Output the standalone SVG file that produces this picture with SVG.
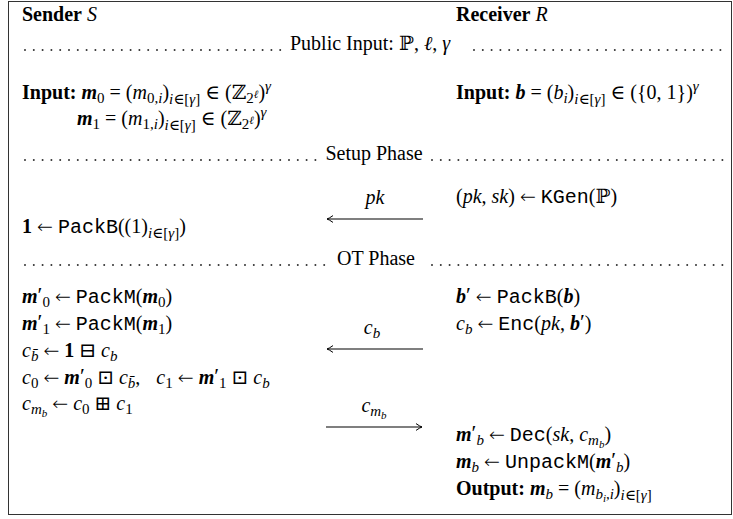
<svg xmlns="http://www.w3.org/2000/svg" width="733" height="519" viewBox="0 0 733 519">
<style>
.t{font-family:"Liberation Serif","DejaVu Serif","DejaVu Sans",serif;font-size:20px;fill:#000}
.b{font-weight:bold}
.i{font-style:italic}
.bi{font-weight:bold;font-style:italic}
.tt{font-family:"Liberation Mono","DejaVu Sans Mono",monospace;font-size:20px}
.ar{font-family:"DejaVu Sans",sans-serif;font-weight:200;font-size:19px}
.s{font-size:15px}
.ss{font-size:11px}
.pr{font-size:22px}
.dots{stroke:#333;stroke-width:2;stroke-linecap:round;stroke-dasharray:0 8.8;fill:none}
.arr{stroke:#000;stroke-width:1.1;fill:none}
</style>
<defs>
<marker id="ah" viewBox="-8 -4 9 8" refX="0" refY="0" markerWidth="9" markerHeight="8" orient="auto" markerUnits="userSpaceOnUse"><path d="M-6,-3.4 Q-2,-0.6 0,0 Q-2,0.6 -6,3.4" fill="none" stroke="#000" stroke-width="1"/></marker>
</defs>
<rect x="8.5" y="1.5" width="723" height="513" fill="#fff" stroke="#333" stroke-width="1"/>

<g id="sender-header"><text class="t" x="22" y="21"><tspan class="b">Sender</tspan> <tspan class="i">S</tspan></text></g>
<g id="receiver-header"><text class="t" x="456" y="21"><tspan class="b">Receiver</tspan> <tspan class="i">R</tspan></text></g>

<g id="public-input">
<line class="dots" x1="25" y1="50" x2="284" y2="50"/>
<text class="t" x="290" y="50">Public Input: ℙ, <tspan class="i">ℓ</tspan>, <tspan class="i">γ</tspan></text>
<line class="dots" x1="474" y1="50" x2="724" y2="50"/>
</g>

<g id="sender-input">
<text class="t" x="22" y="99"><tspan class="b">Input:</tspan> <tspan class="bi">m</tspan><tspan class="s" dy="4">0</tspan><tspan dy="-4"> = (</tspan><tspan class="i">m</tspan><tspan class="s" dy="4">0,<tspan class="i">i</tspan></tspan><tspan dy="-4">)</tspan><tspan class="s" dy="5"><tspan class="i">i</tspan>∈[<tspan class="i">γ</tspan>]</tspan><tspan dy="-5"> ∈ (ℤ</tspan><tspan class="s" dy="4">2</tspan><tspan class="ss i" dy="-5">ℓ</tspan><tspan dy="1">)</tspan><tspan class="s i" dy="-8">γ</tspan></text>
<text class="t" x="77" y="125"><tspan class="bi">m</tspan><tspan class="s" dy="4">1</tspan><tspan dy="-4"> = (</tspan><tspan class="i">m</tspan><tspan class="s" dy="4">1,<tspan class="i">i</tspan></tspan><tspan dy="-4">)</tspan><tspan class="s" dy="5"><tspan class="i">i</tspan>∈[<tspan class="i">γ</tspan>]</tspan><tspan dy="-5"> ∈ (ℤ</tspan><tspan class="s" dy="4">2</tspan><tspan class="ss i" dy="-5">ℓ</tspan><tspan dy="1">)</tspan><tspan class="s i" dy="-8">γ</tspan></text>
</g>

<g id="receiver-input">
<text class="t" x="456" y="99"><tspan class="b">Input:</tspan> <tspan class="bi">b</tspan> = (<tspan class="i">b</tspan><tspan class="s i" dy="4">i</tspan><tspan dy="-4">)</tspan><tspan class="s" dy="5"><tspan class="i">i</tspan>∈[<tspan class="i">γ</tspan>]</tspan><tspan dy="-5"> ∈ ({0, 1})</tspan><tspan class="s i" dy="-8">γ</tspan></text>
</g>

<g id="setup-phase">
<line class="dots" x1="25" y1="160" x2="316" y2="160"/>
<text class="t" x="374" y="160" text-anchor="middle">Setup Phase</text>
<line class="dots" x1="432" y1="160" x2="724" y2="160"/>
</g>

<g id="receiver-keygen">
<text class="t" x="456" y="203">(<tspan class="i">pk</tspan>, <tspan class="i">sk</tspan>) <tspan class="ar">←</tspan> <tspan class="tt">KGen</tspan>(ℙ)</text>
</g>

<g id="sender-packone">
<text class="t" x="22" y="233"><tspan class="b">1</tspan> <tspan class="ar">←</tspan> <tspan class="tt">PackB</tspan>((1)<tspan class="s" dy="5"><tspan class="i">i</tspan>∈[<tspan class="i">γ</tspan>]</tspan><tspan dy="-5">)</tspan></text>
</g>

<g id="ot-phase">
<line class="dots" x1="25" y1="265" x2="328" y2="265"/>
<text class="t" x="376" y="265" text-anchor="middle">OT Phase</text>
<line class="dots" x1="432" y1="265" x2="724" y2="265"/>
</g>

<g id="sender-ot">
<text class="t" x="22" y="303"><tspan class="bi">m</tspan><tspan class="pr" dy="-1">′</tspan><tspan class="s" dy="5">0</tspan><tspan dy="-4"> </tspan><tspan class="ar">←</tspan> <tspan class="tt">PackM</tspan>(<tspan class="bi">m</tspan><tspan class="s" dy="4">0</tspan><tspan dy="-4">)</tspan></text>
<text class="t" x="22" y="330"><tspan class="bi">m</tspan><tspan class="pr" dy="-1">′</tspan><tspan class="s" dy="5">1</tspan><tspan dy="-4"> </tspan><tspan class="ar">←</tspan> <tspan class="tt">PackM</tspan>(<tspan class="bi">m</tspan><tspan class="s" dy="4">1</tspan><tspan dy="-4">)</tspan></text>
<text class="t" x="22" y="357"><tspan class="i">c</tspan><tspan class="s i" dy="4">b̄</tspan><tspan dy="-4"> </tspan><tspan class="ar">←</tspan> <tspan class="b">1</tspan> ⊟ <tspan class="i">c</tspan><tspan class="s i" dy="4">b</tspan></text>
<text class="t" x="22" y="384"><tspan class="i">c</tspan><tspan class="s" dy="4">0</tspan><tspan dy="-4"> </tspan><tspan class="ar">←</tspan> <tspan class="bi">m</tspan><tspan class="pr" dy="-1">′</tspan><tspan class="s" dy="5">0</tspan><tspan dy="-4"> ⊡ </tspan><tspan class="i">c</tspan><tspan class="s i" dy="4">b̄</tspan><tspan dy="-4">,</tspan><tspan dx="16" class="i">c</tspan><tspan class="s" dy="4">1</tspan><tspan dy="-4"> </tspan><tspan class="ar">←</tspan> <tspan class="bi">m</tspan><tspan class="pr" dy="-1">′</tspan><tspan class="s" dy="5">1</tspan><tspan dy="-4"> ⊡ </tspan><tspan class="i">c</tspan><tspan class="s i" dy="4">b</tspan></text>
<text class="t" x="22" y="410"><tspan class="i">c</tspan><tspan class="s i" dy="4">m</tspan><tspan class="ss i" dy="2.5">b</tspan><tspan dy="-6.5"> </tspan><tspan class="ar">←</tspan> <tspan class="i">c</tspan><tspan class="s" dy="4">0</tspan><tspan dy="-4"> ⊞ </tspan><tspan class="i">c</tspan><tspan class="s" dy="4">1</tspan></text>
</g>

<g id="receiver-ot">
<text class="t" x="456" y="303"><tspan class="bi">b</tspan><tspan class="pr" dy="-1">′</tspan><tspan dy="1"> </tspan><tspan class="ar">←</tspan> <tspan class="tt">PackB</tspan>(<tspan class="bi">b</tspan>)</text>
<text class="t" x="456" y="330"><tspan class="i">c</tspan><tspan class="s i" dy="4">b</tspan><tspan dy="-4"> </tspan><tspan class="ar">←</tspan> <tspan class="tt">Enc</tspan>(<tspan class="i">pk</tspan>, <tspan class="bi">b</tspan><tspan class="pr" dy="-1">′</tspan><tspan dy="1">)</tspan></text>
</g>

<g id="receiver-output">
<text class="t" x="456" y="441"><tspan class="bi">m</tspan><tspan class="pr" dy="-1">′</tspan><tspan class="s i" dy="5">b</tspan><tspan dy="-4"> </tspan><tspan class="ar">←</tspan> <tspan class="tt">Dec</tspan>(<tspan class="i">sk</tspan>, <tspan class="i">c</tspan><tspan class="s i" dy="4">m</tspan><tspan class="ss i" dy="2.5">b</tspan><tspan dy="-6.5">)</tspan></text>
<text class="t" x="456" y="468"><tspan class="bi">m</tspan><tspan class="s i" dy="4">b</tspan><tspan dy="-4"> </tspan><tspan class="ar">←</tspan> <tspan class="tt">UnpackM</tspan>(<tspan class="bi">m</tspan><tspan class="pr" dy="-1">′</tspan><tspan class="s i" dy="5">b</tspan><tspan dy="-4">)</tspan></text>
<text class="t" x="456" y="495"><tspan class="b">Output:</tspan> <tspan class="bi">m</tspan><tspan class="s i" dy="4">b</tspan><tspan dy="-4"> = (</tspan><tspan class="i">m</tspan><tspan class="s i" dy="4">b</tspan><tspan class="ss i" dy="2.5">i</tspan><tspan class="s" dy="-2.5">,<tspan class="i">i</tspan></tspan><tspan dy="-4">)</tspan><tspan class="s" dy="5"><tspan class="i">i</tspan>∈[<tspan class="i">γ</tspan>]</tspan></text>
</g>

<g id="connectors">
<line class="arr" x1="423" y1="219" x2="327" y2="219" marker-end="url(#ah)"/>
<text class="t i" x="375" y="204" text-anchor="middle">pk</text>
<line class="arr" x1="423" y1="349" x2="327" y2="349" marker-end="url(#ah)"/>
<text class="t" x="372" y="334" text-anchor="middle"><tspan class="i">c</tspan><tspan class="s i" dy="4">b</tspan></text>
<line class="arr" x1="326" y1="427" x2="422" y2="427" marker-end="url(#ah)"/>
<text class="t" x="374" y="412" text-anchor="middle"><tspan class="i">c</tspan><tspan class="s i" dy="4">m</tspan><tspan class="ss i" dy="2.5">b</tspan></text>
</g>
</svg>
